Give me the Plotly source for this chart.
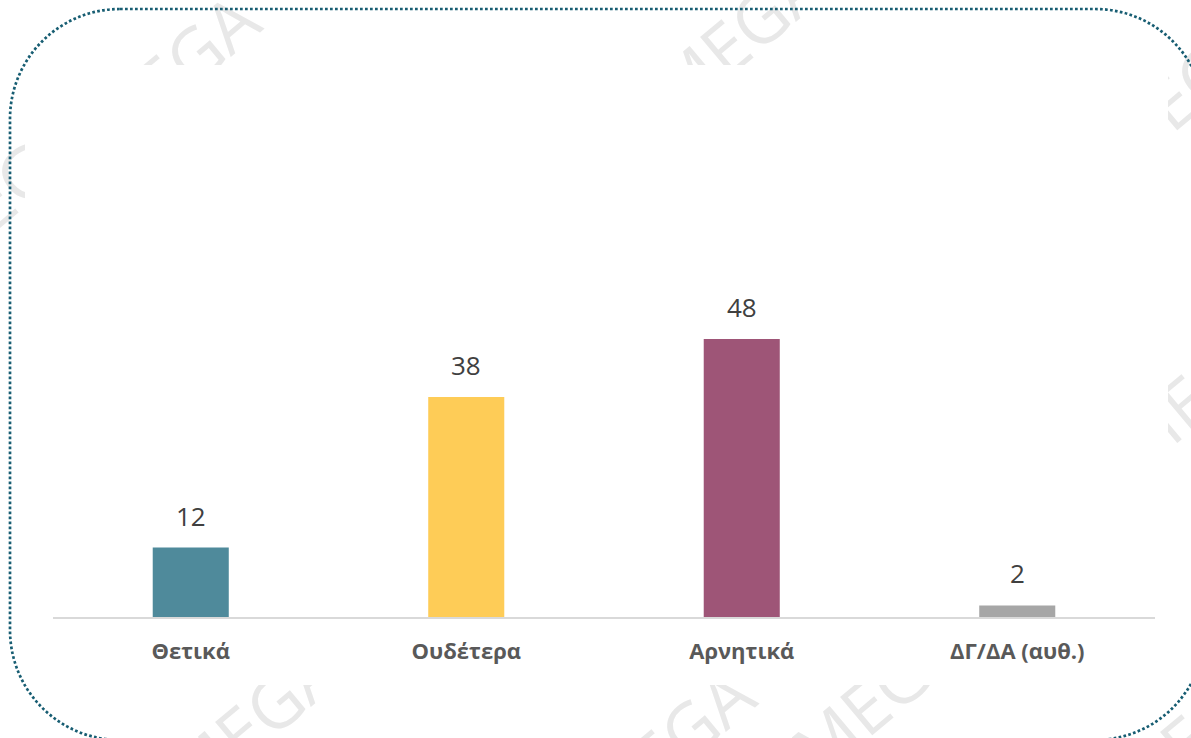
import plotly.graph_objects as go

W, H = 1191, 738

categories = ["Θετικά", "Ουδέτερα", "Αρνητικά", "ΔΓ/ΔΑ (αυθ.)"]
values = [12, 38, 48, 2]
colors = ["#4f8a9b", "#fecc57", "#9e5577", "#a6a6a6"]

watermark_text = "MEGA"
watermark_pos = [(175, 75), (740, 40), (1185, 95), (5, 195), (1200, 395),
                 (255, 725), (670, 750), (880, 700), (1200, 735)]


def px(x):
    return x / W


def py(y):
    return 1 - y / H


def rounded_path(x0, y0, x1, y1, r):
    k = 0.5523 * r
    pts = [
        ("M", [(x0 + r, y0)]),
        ("L", [(x1 - r, y0)]),
        ("C", [(x1 - r + k, y0), (x1, y0 + r - k), (x1, y0 + r)]),
        ("L", [(x1, y1 - r)]),
        ("C", [(x1, y1 - r + k), (x1 - r + k, y1), (x1 - r, y1)]),
        ("L", [(x0 + r, y1)]),
        ("C", [(x0 + r - k, y1), (x0, y1 - r + k), (x0, y1 - r)]),
        ("L", [(x0, y0 + r)]),
        ("C", [(x0, y0 + r - k), (x0 + r - k, y0), (x0 + r, y0)]),
    ]
    s = ""
    for cmd, ps in pts:
        s += cmd + " " + " ".join(f"{px(a):.5f},{py(b):.5f}" for a, b in ps) + " "
    return s + "Z"


fig = go.Figure()
fig.add_trace(go.Bar(
    x=categories, y=values, marker_color=colors, marker_line_width=0,
    hoverinfo="skip",
))

shapes = []
for (cx, cy) in watermark_pos:
    shapes.append(dict(
        type="rect", xref="paper", yref="paper", layer="below",
        x0=px(cx - 1), x1=px(cx + 1), y0=py(cy + 1), y1=py(cy - 1),
        line=dict(width=0), fillcolor="rgba(0,0,0,0)",
        label=dict(text=watermark_text, textangle=-40, textposition="middle center",
                   font=dict(family="Open Sans", size=70, color="#e8e8e8")),
    ))
# white panel hiding the watermark inside the chart area
shapes.append(dict(
    type="rect", xref="paper", yref="paper", layer="below",
    x0=px(25), x1=px(1168), y0=py(685), y1=py(65),
    line=dict(width=0), fillcolor="white",
))
# dotted rounded border
shapes.append(dict(
    type="path", xref="paper", yref="paper", layer="below",
    path=rounded_path(10, 9, 1205, 740, 110),
    line=dict(color="#175d72", width=2.7, dash="2.7px,2.3px"),
))

annotations = []
for c, v in zip(categories, values):
    annotations.append(dict(
        x=c, y=v, xref="x", yref="y", text=str(v), showarrow=False,
        yanchor="bottom", yshift=12,
        font=dict(family="Open Sans", size=26, color="#404040"),
    ))

fig.update_layout(
    width=W, height=H,
    margin=dict(l=0, r=0, t=0, b=0),
    paper_bgcolor="white", plot_bgcolor="rgba(0,0,0,0)",
    showlegend=False,
    bargap=0.724,
    shapes=shapes,
    annotations=annotations,
    xaxis=dict(
        domain=[px(53), px(1155)], showline=True, linecolor="#d9d9d9", linewidth=1.5,
        showgrid=False, zeroline=False, ticks="", automargin=False,
        ticklabelstandoff=14,
        tickfont=dict(family="Open Sans", size=22, color="#595959", weight="bold"),
    ),
    yaxis=dict(
        domain=[py(617), py(269.5)], range=[0, 60], visible=False,
        showgrid=False, zeroline=False, automargin=False,
    ),
)

fig.write_html(
    "out.html",
    config={"displayModeBar": False},
    post_script="document.body.style.margin='0';document.body.style.overflow='hidden';",
)
